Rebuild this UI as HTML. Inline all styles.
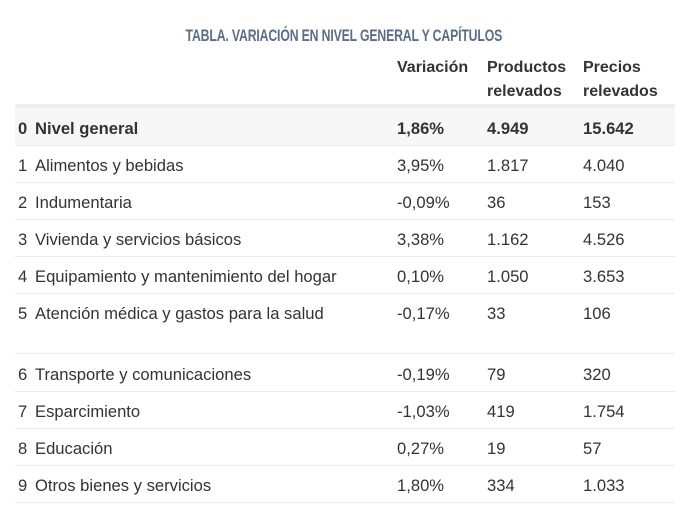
<!DOCTYPE html>
<html><head><meta charset="utf-8"><style>
body{margin:0;width:688px;height:517px;background:#fff;font-family:"Liberation Sans",sans-serif;color:#333;position:relative;overflow:hidden}
.t{position:absolute;font-size:16.6px;line-height:20px;white-space:nowrap;margin-top:2px}
.b{font-weight:bold}
.h{font-size:16px}
.ln{position:absolute;left:15px;width:660px;height:1px;background:#ececec}
.title{position:absolute;left:0;width:688px;top:26px;text-align:center;font-weight:bold;font-size:17px;color:#5a6d86;letter-spacing:-0.2px}
.title span{display:inline-block;transform:scaleX(0.72)}
</style></head><body>
<div class="title"><span>TABLA. VARIACIÓN EN NIVEL GENERAL Y CAPÍTULOS</span></div>
<div class="t b h" style="left:397px;top:56px">Variación</div>
<div class="t b h" style="left:487px;top:56px">Productos</div>
<div class="t b h" style="left:487px;top:80px">relevados</div>
<div class="t b h" style="left:583px;top:56px">Precios</div>
<div class="t b h" style="left:583px;top:80px">relevados</div>
<div style="position:absolute;left:15px;top:104px;width:660px;height:41px;background:#f7f7f7"></div>
<div style="position:absolute;left:15px;top:104px;width:660px;height:4px;background:#efefef"></div>
<div class="ln" style="top:145px"></div>
<div class="ln" style="top:182px"></div>
<div class="ln" style="top:219px"></div>
<div class="ln" style="top:256px"></div>
<div class="ln" style="top:293px"></div>
<div class="ln" style="top:353px"></div>
<div class="ln" style="top:391px"></div>
<div class="ln" style="top:428px"></div>
<div class="ln" style="top:465px"></div>
<div class="ln" style="top:502px"></div>

<div class="t b" style="left:18px;top:117px">0</div><div class="t b" style="left:35px;top:117px">Nivel general</div><div class="t b" style="left:397px;top:117px">1,86%</div><div class="t b" style="left:487px;top:117px">4.949</div><div class="t b" style="left:583px;top:117px">15.642</div>

<div class="t" style="left:18px;top:154px">1</div><div class="t" style="left:35px;top:154px">Alimentos y bebidas</div><div class="t" style="left:397px;top:154px">3,95%</div><div class="t" style="left:487px;top:154px">1.817</div><div class="t" style="left:583px;top:154px">4.040</div>

<div class="t" style="left:18px;top:191px">2</div><div class="t" style="left:35px;top:191px">Indumentaria</div><div class="t" style="left:397px;top:191px">-0,09%</div><div class="t" style="left:487px;top:191px">36</div><div class="t" style="left:583px;top:191px">153</div>

<div class="t" style="left:18px;top:228px">3</div><div class="t" style="left:35px;top:228px">Vivienda y servicios básicos</div><div class="t" style="left:397px;top:228px">3,38%</div><div class="t" style="left:487px;top:228px">1.162</div><div class="t" style="left:583px;top:228px">4.526</div>

<div class="t" style="left:18px;top:265px">4</div><div class="t" style="left:35px;top:265px">Equipamiento y mantenimiento del hogar</div><div class="t" style="left:397px;top:265px">0,10%</div><div class="t" style="left:487px;top:265px">1.050</div><div class="t" style="left:583px;top:265px">3.653</div>

<div class="t" style="left:18px;top:302px">5</div><div class="t" style="left:35px;top:302px">Atención médica y gastos para la salud</div><div class="t" style="left:397px;top:302px">-0,17%</div><div class="t" style="left:487px;top:302px">33</div><div class="t" style="left:583px;top:302px">106</div>

<div class="t" style="left:18px;top:363px">6</div><div class="t" style="left:35px;top:363px">Transporte y comunicaciones</div><div class="t" style="left:397px;top:363px">-0,19%</div><div class="t" style="left:487px;top:363px">79</div><div class="t" style="left:583px;top:363px">320</div>

<div class="t" style="left:18px;top:400px">7</div><div class="t" style="left:35px;top:400px">Esparcimiento</div><div class="t" style="left:397px;top:400px">-1,03%</div><div class="t" style="left:487px;top:400px">419</div><div class="t" style="left:583px;top:400px">1.754</div>

<div class="t" style="left:18px;top:437px">8</div><div class="t" style="left:35px;top:437px">Educación</div><div class="t" style="left:397px;top:437px">0,27%</div><div class="t" style="left:487px;top:437px">19</div><div class="t" style="left:583px;top:437px">57</div>

<div class="t" style="left:18px;top:474px">9</div><div class="t" style="left:35px;top:474px">Otros bienes y servicios</div><div class="t" style="left:397px;top:474px">1,80%</div><div class="t" style="left:487px;top:474px">334</div><div class="t" style="left:583px;top:474px">1.033</div>
</body></html>
